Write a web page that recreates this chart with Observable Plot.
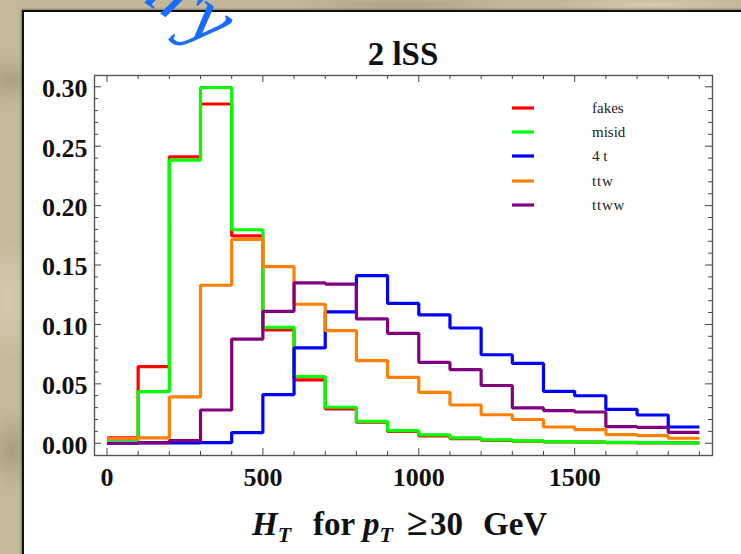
<!DOCTYPE html>
<html>
<head>
<meta charset="utf-8">
<script src="https://cdn.jsdelivr.net/npm/d3@7"></script>
<script src="https://cdn.jsdelivr.net/npm/@observablehq/plot@0.6"></script>
<style>
  html, body { margin: 0; padding: 0; }
  body { width: 741px; height: 554px; overflow: hidden; }
  #wrap { position: relative; width: 741px; height: 554px; overflow: hidden;
    background-color: #c5b99d;
    background-image:
      radial-gradient(ellipse 40px 25px at 10px 80px, rgba(150,138,112,0.55), transparent),
      radial-gradient(ellipse 30px 60px at 8px 300px, rgba(225,214,190,0.6), transparent),
      radial-gradient(ellipse 25px 40px at 12px 450px, rgba(140,128,102,0.5), transparent),
      radial-gradient(ellipse 120px 8px at 400px 4px, rgba(150,138,112,0.5), transparent),
      radial-gradient(ellipse 90px 7px at 650px 5px, rgba(225,214,190,0.6), transparent);
  }
  #panel { position: absolute; left: 22px; top: 10px; width: 800px; height: 600px;
    background: #ffffff; border-left: 2px solid #111; border-top: 2px solid #111;
    box-shadow: -1px -1px 2px rgba(0,0,0,0.35); }
  #chart { position: absolute; left: 0; top: 0; }
  #overlay { position: absolute; left: 0; top: 0; pointer-events: none; }
</style>
</head>
<body>
<div id="wrap">
  <div id="panel"></div>
  <div id="chart"></div>
  <svg id="overlay" width="741" height="554"></svg>
</div>
<script>
// ---------- data ----------
const binEdges = [0, 100, 200, 300, 400, 500, 600, 700, 800, 900, 1000,
                  1100, 1200, 1300, 1400, 1500, 1600, 1700, 1800, 1900];

const seriesNames  = ["fakes", "misid", "4 t", "ttw", "ttww"];
const seriesColors = ["#ff0000", "#00ff00", "#0000ff", "#ff8000", "#800080"];

const fakes = [0.0045, 0.0645, 0.241, 0.2855, 0.1745, 0.0953, 0.0533, 0.029, 0.0177, 0.0100,
               0.0062, 0.0038, 0.0025, 0.0018, 0.0012, 0.0009, 0.0006, 0.0004, 0.0003];
const misid = [0.0030, 0.0435, 0.2383, 0.2994, 0.1797, 0.0976, 0.0562, 0.0303, 0.0185, 0.0107,
               0.0070, 0.0045, 0.0028, 0.0020, 0.0014, 0.0010, 0.0007, 0.0005, 0.0004];
const fourT = [0.0000, 0.0002, 0.0004, 0.0006, 0.0090, 0.0410, 0.0802, 0.1105, 0.1410, 0.1177,
               0.1080, 0.0970, 0.0745, 0.0672, 0.0437, 0.0400, 0.0286, 0.0238, 0.0137];
const ttw   = [0.0040, 0.0045, 0.0390, 0.1330, 0.1716, 0.1486, 0.1170, 0.0948, 0.0695, 0.0555,
               0.0429, 0.0322, 0.0240, 0.0200, 0.0137, 0.0115, 0.0073, 0.0064, 0.0042];
const ttww  = [0.0000, 0.0005, 0.0022, 0.0280, 0.0877, 0.1110, 0.1350, 0.1340, 0.1046, 0.0925,
               0.0680, 0.0620, 0.0486, 0.0297, 0.0275, 0.0263, 0.0140, 0.0134, 0.0092];

const xTickLabels = [0, 500, 1000, 1500];
const yTickLabels = [0.00, 0.05, 0.10, 0.15, 0.20, 0.25, 0.30];

const titleText = "2 lSS";

// ---------- build table ----------
const seriesValues = [fakes, misid, fourT, ttw, ttww];
const rows = [];
seriesNames.forEach((name, s) => {
  const vals = seriesValues[s];
  vals.forEach((v, i) => rows.push({name, x: binEdges[i], y: v}));
  rows.push({name, x: binEdges[binEdges.length - 1], y: vals[vals.length - 1]});
});

const xMinor = binEdges.filter(d => !xTickLabels.includes(d));
const yMinor = d3.range(1, 30).map(d => d / 100).filter(d => Math.round(d * 100) % 5 !== 0);

const W = 741, H = 554;
const mL = 94, mR = 29, mT = 75, mB = 99;
const fw = W - mL - mR, fh = H - mT - mB;
const serif = "Liberation Serif, Times New Roman, serif";
const tickColor = "#444";

const plot = Plot.plot({
  width: W, height: H,
  marginLeft: mL, marginRight: mR, marginTop: mT, marginBottom: mB,
  style: {background: "transparent", fontFamily: serif, overflow: "visible"},
  x: {domain: [-40, 1942]},
  y: {domain: [-0.0103, 0.3095]},
  color: {domain: seriesNames, range: seriesColors},
  marks: [
    Plot.line(rows, {x: "x", y: "y", z: "name", stroke: "name", curve: "step-after",
                     strokeWidth: 3.2, strokeLinejoin: "miter", strokeLinecap: "butt"}),
    // inward ticks: bottom and top
    Plot.tickX(xTickLabels, {x: d => d, insetTop: fh - 7, stroke: tickColor}),
    Plot.tickX(xMinor, {x: d => d, insetTop: fh - 4, stroke: tickColor}),
    Plot.tickX(xTickLabels, {x: d => d, insetBottom: fh - 7, stroke: tickColor}),
    Plot.tickX(xMinor, {x: d => d, insetBottom: fh - 4, stroke: tickColor}),
    // inward ticks: left and right
    Plot.tickY(yTickLabels, {y: d => d, insetRight: fw - 7, stroke: tickColor}),
    Plot.tickY(yMinor, {y: d => d, insetRight: fw - 4, stroke: tickColor}),
    Plot.tickY(yTickLabels, {y: d => d, insetLeft: fw - 7, stroke: tickColor}),
    Plot.tickY(yMinor, {y: d => d, insetLeft: fw - 4, stroke: tickColor}),
    Plot.axisX(xTickLabels, {tickSize: 0, tickPadding: 12, label: null, fontSize: 26,
                             fontWeight: "bold", fontFamily: serif, fill: "#111",
                             tickFormat: d => String(d)}),
    Plot.axisY(yTickLabels, {tickSize: 0, tickPadding: 7, label: null, fontSize: 26,
                             fontWeight: "bold", fontFamily: serif, fill: "#111", dy: 2,
                             tickFormat: d3.format(".2f")}),
    Plot.frame({stroke: "#555", strokeWidth: 1.4})
  ]
});
document.getElementById("chart").appendChild(plot);

// ---------- overlay: title, axis label, legend, watermark ----------
const ov = d3.select("#overlay");

// watermark fragment (rest of the word lies above the slide)
ov.append("text")
  .attr("x", 212).attr("y", 50)
  .attr("text-anchor", "end")
  .attr("transform", "rotate(35 212 50)")
  .attr("font-family", serif).attr("font-style", "italic")
  .attr("font-size", 80).attr("fill", "#1a6cff")
  .text("Preliminary");

// title
ov.append("text")
  .attr("x", (mL + W - mR) / 2).attr("y", 65)
  .attr("text-anchor", "middle")
  .attr("font-family", serif).attr("font-weight", "bold").attr("font-size", 33)
  .attr("fill", "#111")
  .text(titleText);

// x-axis label with subscripts
const labY = 535, subDy = 7, fs = 33, sfs = 22;
const lab = ov.append("text")
  .attr("y", labY)
  .attr("font-family", serif).attr("font-weight", "bold").attr("font-size", fs)
  .attr("fill", "#111");
lab.append("tspan").attr("x", 252).attr("font-style", "italic").text("H");
lab.append("tspan").attr("font-style", "italic").attr("font-size", sfs).attr("dy", subDy).text("T");
lab.append("tspan").attr("x", 313).attr("dy", -subDy).text("for");
lab.append("tspan").attr("x", 363).attr("font-style", "italic").text("p");
lab.append("tspan").attr("font-style", "italic").attr("font-size", sfs).attr("dy", subDy).text("T");
lab.append("tspan").attr("x", 407).attr("dy", -subDy).attr("font-size", 38).text("\u2265");
lab.append("tspan").attr("x", 430).text("30");
lab.append("tspan").attr("x", 483).text("GeV");

// legend
const legX1 = 512, legX2 = 534, legTextX = 592;
const legY = [108, 132, 156, 181, 205];
seriesNames.forEach((name, i) => {
  ov.append("line")
    .attr("x1", legX1).attr("x2", legX2).attr("y1", legY[i]).attr("y2", legY[i])
    .attr("stroke", seriesColors[i]).attr("stroke-width", 3.2);
  ov.append("text")
    .attr("x", legTextX).attr("y", legY[i] + 5)
    .attr("font-family", serif).attr("font-size", 15).attr("fill", "#222")
    .attr("letter-spacing", name.startsWith("tt") ? 0.8 : 0)
    .text(name);
});
</script>
</body>
</html>
